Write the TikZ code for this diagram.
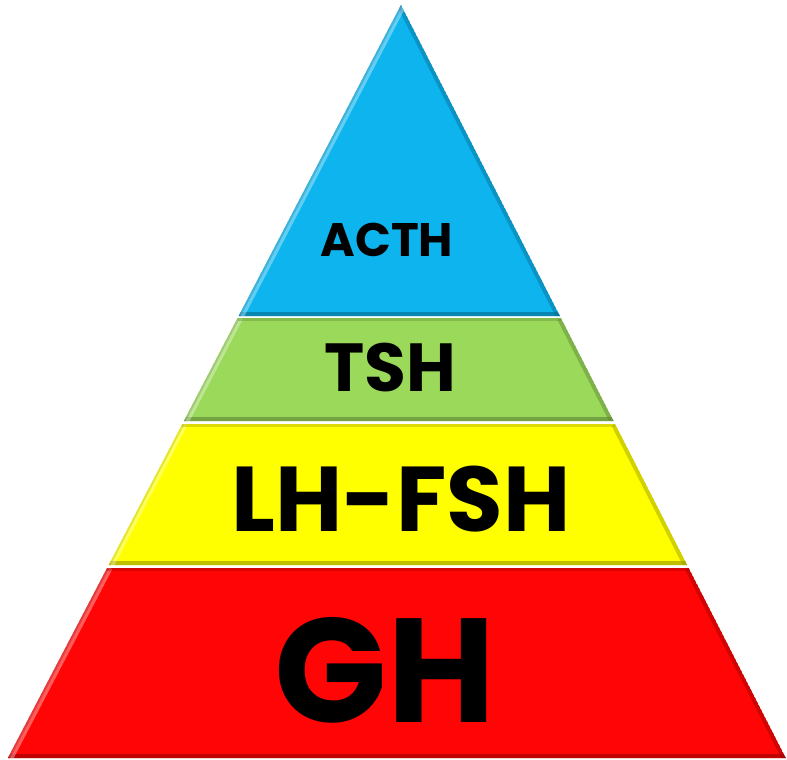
\documentclass[tikz,border=0pt]{standalone}
\usepackage{fontspec}
\newfontfamily\lab{Poppins}
\definecolor{cblue}{HTML}{0DB4EE}
\definecolor{cgreen}{HTML}{9BD95A}
\definecolor{cyellow}{HTML}{FFFF00}
\definecolor{cred}{HTML}{FF0505}
\tikzset{
  layer/.style={fill=#1},
  lbl/.style={font=\lab\bfseries, text=black, inner sep=0pt, anchor=center}
}
% edge helpers: left x(y), right x(y)
\newcommand{\lx}[1]{401-0.522*(#1-5)}
\newcommand{\rx}[1]{401+0.511*(#1-5)}
\newcommand{\bevel}[4]{% color, top y, bottom y, istriangle(0/1)
  \begin{scope}
    \clip ({\lx{#2}},#2) -- ({\rx{#2}},#2) -- ({\rx{#3}},#3) -- ({\lx{#3}},#3) -- cycle;
    \fill[#1] ({\lx{#2}},#2) -- ({\rx{#2}},#2) -- ({\rx{#3}},#3) -- ({\lx{#3}},#3) -- cycle;
    \draw[line width=9pt, #1!55!black, opacity=0.55] ({\lx{#3}},#3) -- ({\rx{#3}},#3);
    \draw[line width=8pt, #1!60!black, opacity=0.45] ({\rx{#2}},#2) -- ({\rx{#3}},#3);
    \draw[line width=5pt, white, opacity=0.35] ({\lx{#2}+3},#2) -- ({\lx{#3}+3},#3);
    \draw[line width=4pt, #1!70!black, opacity=0.35] ({\lx{#2}},#2) -- ({\lx{#3}},#3);
    \ifnum#4=0
    \draw[line width=5pt, #1!65!black, opacity=0.4] ({\lx{#2}},#2) -- ({\rx{#2}},#2);
    \fi
  \end{scope}
}
\begin{document}
\begin{tikzpicture}[x=1pt,y=-1pt]
\useasboundingbox (0,0) rectangle (787,760);
\bevel{cblue}{5}{316}{1}
\bevel{cgreen}{318}{421}{0}
\bevel{cyellow}{424}{565}{0}
\bevel{cred}{568}{758}{0}
\node[lbl, font=\lab\bfseries\fontsize{47}{50}\selectfont] (acth) at (387,240) {ACTH};
\node[lbl, font=\lab\bfseries\fontsize{68}{70}\selectfont] (tsh) at (390,368) {TSH};
\node[lbl, font=\lab\bfseries\fontsize{92}{96}\selectfont] (lhfsh) at (401,499) {LH-FSH};
\node[lbl, font=\lab\bfseries\fontsize{148}{150}\selectfont] (gh) at (385,670) {GH};
\end{tikzpicture}
\end{document}
